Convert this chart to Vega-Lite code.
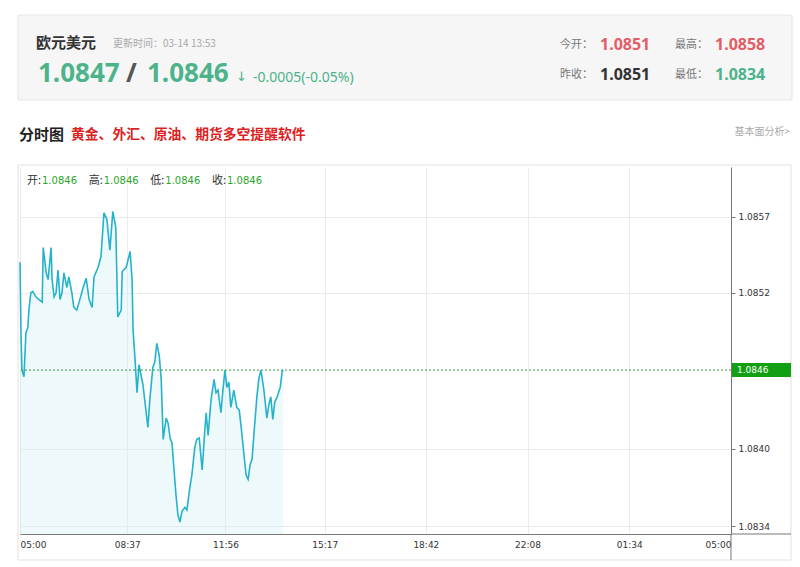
{
  "$schema": "https://vega.github.io/schema/vega-lite/v6.json",
  "width": 711,
  "height": 367,
  "autosize": {"type": "none"},
  "padding": {"left": 20, "top": 167, "right": 69, "bottom": 33},
  "background": "#ffffff",
  "config": {"view": {"stroke": null}, "font": "Noto Sans CJK SC"},
  "datasets": {
    "series": [
      {"t":"2024-03-14T05:00","p":1.08541},{"t":"2024-03-14T05:02","p":1.08488},{"t":"2024-03-14T05:04","p":1.08460},{"t":"2024-03-14T05:08","p":1.08455},
      {"t":"2024-03-14T05:12","p":1.08488},{"t":"2024-03-14T05:16","p":1.08492},{"t":"2024-03-14T05:18","p":1.08505},{"t":"2024-03-14T05:22","p":1.08518},
      {"t":"2024-03-14T05:26","p":1.08519},{"t":"2024-03-14T05:32","p":1.08515},{"t":"2024-03-14T05:38","p":1.08513},{"t":"2024-03-14T05:45","p":1.08511},
      {"t":"2024-03-14T05:47","p":1.08552},{"t":"2024-03-14T05:53","p":1.08533},{"t":"2024-03-14T05:57","p":1.08528},{"t":"2024-03-14T06:03","p":1.08552},
      {"t":"2024-03-14T06:05","p":1.08528},{"t":"2024-03-14T06:09","p":1.08515},{"t":"2024-03-14T06:13","p":1.08518},{"t":"2024-03-14T06:17","p":1.08535},
      {"t":"2024-03-14T06:21","p":1.08513},{"t":"2024-03-14T06:25","p":1.08518},{"t":"2024-03-14T06:29","p":1.08533},{"t":"2024-03-14T06:35","p":1.08522},
      {"t":"2024-03-14T06:39","p":1.08530},{"t":"2024-03-14T06:45","p":1.08518},{"t":"2024-03-14T06:49","p":1.08507},{"t":"2024-03-14T06:55","p":1.08505},
      {"t":"2024-03-14T07:02","p":1.08514},{"t":"2024-03-14T07:08","p":1.08522},{"t":"2024-03-14T07:14","p":1.08529},{"t":"2024-03-14T07:20","p":1.08513},
      {"t":"2024-03-14T07:26","p":1.08507},{"t":"2024-03-14T07:30","p":1.08530},{"t":"2024-03-14T07:38","p":1.08537},{"t":"2024-03-14T07:44","p":1.08545},
      {"t":"2024-03-14T07:50","p":1.08578},{"t":"2024-03-14T07:56","p":1.08573},{"t":"2024-03-14T08:02","p":1.08550},{"t":"2024-03-14T08:08","p":1.08579},
      {"t":"2024-03-14T08:14","p":1.08567},{"t":"2024-03-14T08:18","p":1.08500},{"t":"2024-03-14T08:25","p":1.08505},{"t":"2024-03-14T08:27","p":1.08534},
      {"t":"2024-03-14T08:35","p":1.08537},{"t":"2024-03-14T08:39","p":1.08543},{"t":"2024-03-14T08:43","p":1.08549},{"t":"2024-03-14T08:47","p":1.08528},
      {"t":"2024-03-14T08:49","p":1.08490},{"t":"2024-03-14T08:53","p":1.08468},{"t":"2024-03-14T08:57","p":1.08443},{"t":"2024-03-14T09:01","p":1.08464},
      {"t":"2024-03-14T09:09","p":1.08449},{"t":"2024-03-14T09:15","p":1.08430},{"t":"2024-03-14T09:19","p":1.08417},{"t":"2024-03-14T09:23","p":1.08438},
      {"t":"2024-03-14T09:29","p":1.08462},{"t":"2024-03-14T09:33","p":1.08466},{"t":"2024-03-14T09:37","p":1.08480},{"t":"2024-03-14T09:42","p":1.08471},
      {"t":"2024-03-14T09:46","p":1.08453},{"t":"2024-03-14T09:50","p":1.08408},{"t":"2024-03-14T09:56","p":1.08424},{"t":"2024-03-14T10:00","p":1.08420},
      {"t":"2024-03-14T10:04","p":1.08409},{"t":"2024-03-14T10:08","p":1.08405},{"t":"2024-03-14T10:12","p":1.08385},{"t":"2024-03-14T10:16","p":1.08366},
      {"t":"2024-03-14T10:20","p":1.08351},{"t":"2024-03-14T10:24","p":1.08346},{"t":"2024-03-14T10:28","p":1.08354},{"t":"2024-03-14T10:34","p":1.08357},
      {"t":"2024-03-14T10:38","p":1.08355},{"t":"2024-03-14T10:44","p":1.08372},{"t":"2024-03-14T10:48","p":1.08381},{"t":"2024-03-14T10:54","p":1.08402},
      {"t":"2024-03-14T10:58","p":1.08408},{"t":"2024-03-14T11:03","p":1.08409},{"t":"2024-03-14T11:09","p":1.08385},{"t":"2024-03-14T11:13","p":1.08408},
      {"t":"2024-03-14T11:17","p":1.08428},{"t":"2024-03-14T11:21","p":1.08411},{"t":"2024-03-14T11:27","p":1.08438},{"t":"2024-03-14T11:33","p":1.08453},
      {"t":"2024-03-14T11:37","p":1.08443},{"t":"2024-03-14T11:41","p":1.08445},{"t":"2024-03-14T11:47","p":1.08428},{"t":"2024-03-14T11:51","p":1.08445},
      {"t":"2024-03-14T11:55","p":1.08460},{"t":"2024-03-14T11:59","p":1.08447},{"t":"2024-03-14T12:03","p":1.08451},{"t":"2024-03-14T12:07","p":1.08432},
      {"t":"2024-03-14T12:13","p":1.08445},{"t":"2024-03-14T12:19","p":1.08432},{"t":"2024-03-14T12:24","p":1.08430},{"t":"2024-03-14T12:28","p":1.08417},
      {"t":"2024-03-14T12:34","p":1.08395},{"t":"2024-03-14T12:38","p":1.08381},{"t":"2024-03-14T12:42","p":1.08378},{"t":"2024-03-14T12:46","p":1.08389},
      {"t":"2024-03-14T12:50","p":1.08393},{"t":"2024-03-14T12:54","p":1.08413},{"t":"2024-03-14T13:00","p":1.08441},{"t":"2024-03-14T13:04","p":1.08454},
      {"t":"2024-03-14T13:08","p":1.08460},{"t":"2024-03-14T13:14","p":1.08445},{"t":"2024-03-14T13:20","p":1.08424},{"t":"2024-03-14T13:24","p":1.08434},
      {"t":"2024-03-14T13:28","p":1.08440},{"t":"2024-03-14T13:32","p":1.08423},{"t":"2024-03-14T13:36","p":1.08436},{"t":"2024-03-14T13:41","p":1.08440},
      {"t":"2024-03-14T13:47","p":1.08447},{"t":"2024-03-14T13:51","p":1.08459},{"t":"2024-03-14T13:53","p":1.08460}
    ],
    "quote": [
      {"name":"欧元美元","updated":"更新时间：03-14 13:53","bid":1.0847,"ask":1.0846,"chg":"-0.0005(-0.05%)","open":1.0851,"high":1.0858,"prev":1.0851,"low":1.0834}
    ],
    "bar": [
      {"k":"开:","v":1.0846},{"k":"高:","v":1.0846},{"k":"低:","v":1.0846},{"k":"收:","v":1.0846}
    ],
    "last": [{"t":"2024-03-14T13:53","p":1.0846}]
  },
  "resolve": {"scale": {"x": "independent"}},
  "layer": [
    {
      "data": {"values": [{}]},
      "layer": [
        {"mark": {"type": "rect", "x": -2, "x2": 771, "y": -2, "y2": 393, "fillOpacity": 0, "stroke": "#e2e2e2", "strokeWidth": 1}},
        {"mark": {"type": "rect", "x": -2, "x2": 772, "y": -152, "y2": -67, "fill": "#f6f6f6", "stroke": "#e6e6e6", "strokeWidth": 1}},
        {"mark": {"type": "rule", "x": -2, "x2": 772, "y": -14, "y2": -14, "color": "#e4e4e4", "strokeWidth": 2}, "encoding": {}},
        {"mark": {"type": "rule", "color": "#777777", "strokeWidth": 1}, "encoding": {"x": {"value": "width"}, "y": {"value": "height"}, "y2": {"value": 393}}},
        {"mark": {"type": "rule", "color": "#777777", "strokeWidth": 1}, "encoding": {"x": {"value": "width"}, "x2": {"value": 771}, "y": {"value": "height"}}}
      ]
    },
    {
      "data": {"name": "series"},
      "encoding": {
        "x": {
          "field": "t", "type": "temporal",
          "scale": {"domain": [{"year": 2024, "month": 3, "date": 14, "hours": 5}, {"year": 2024, "month": 3, "date": 15, "hours": 5}]},
          "axis": {
            "values": [
              {"year": 2024, "month": 3, "date": 14, "hours": 5, "minutes": 0},
              {"year": 2024, "month": 3, "date": 14, "hours": 8, "minutes": 37},
              {"year": 2024, "month": 3, "date": 14, "hours": 11, "minutes": 56},
              {"year": 2024, "month": 3, "date": 14, "hours": 15, "minutes": 17},
              {"year": 2024, "month": 3, "date": 14, "hours": 18, "minutes": 42},
              {"year": 2024, "month": 3, "date": 14, "hours": 22, "minutes": 8},
              {"year": 2024, "month": 3, "date": 15, "hours": 1, "minutes": 34},
              {"year": 2024, "month": 3, "date": 15, "hours": 5, "minutes": 0}
            ],
            "format": "%H:%M", "labelFlush": true, "labelOverlap": false,
            "grid": true, "gridColor": "#ebebeb", "ticks": false,
            "domainColor": "#777777", "labelColor": "#333333",
            "labelFont": "DejaVu Sans", "labelFontSize": 9, "labelPadding": 6, "title": null
          }
        },
        "y": {
          "field": "p", "type": "quantitative",
          "scale": {"domain": [1.08337, 1.086124], "zero": false, "nice": false},
          "axis": {
            "orient": "right", "values": [1.08343, 1.08401, 1.08518, 1.085749], "format": ".4f",
            "grid": true, "gridColor": "#ebebeb", "tickSize": 4, "tickColor": "#777777",
            "domainColor": "#777777", "labelColor": "#333333",
            "labelFont": "DejaVu Sans", "labelFontSize": 9, "labelPadding": 3, "title": null
          }
        }
      },
      "layer": [
        {"mark": {"type": "area", "color": "#cdeef6", "opacity": 0.35}, "encoding": {"y2": {"datum": 1.08337}}},
        {"mark": {"type": "line", "color": "#25b3cb", "strokeWidth": 1.6}}
      ]
    },
    {
      "data": {"name": "last"},
      "layer": [
        {"mark": {"type": "rule", "color": "#3c9c3c", "strokeDash": [2, 2], "strokeWidth": 1}, "encoding": {"y": {"field": "p", "type": "quantitative"}}},
        {"mark": {"type": "rect", "width": 59, "height": 14, "xOffset": 30.5, "color": "#12a012"}, "encoding": {"x": {"value": "width"}, "y": {"field": "p", "type": "quantitative"}}},
        {"mark": {"type": "text", "align": "left", "baseline": "middle", "dx": 6, "color": "#ffffff", "font": "DejaVu Sans", "fontSize": 9},
         "encoding": {"x": {"value": "width"}, "y": {"field": "p", "type": "quantitative"}, "text": {"field": "p", "type": "quantitative", "format": ".4f"}}}
      ]
    },
    {
      "data": {"name": "bar"},
      "encoding": {
        "x": {"field": "k", "type": "nominal", "scale": {"type": "point", "domain": ["开:", "高:", "低:", "收:"], "range": [7, 192], "padding": 0}, "axis": null},
        "y": {"value": 14}
      },
      "layer": [
        {"mark": {"type": "text", "align": "left", "baseline": "middle", "fontSize": 11, "color": "#333333"}, "encoding": {"text": {"field": "k"}}},
        {"mark": {"type": "text", "align": "left", "baseline": "middle", "dx": 15, "fontSize": 10, "color": "#2aa52a", "font": "DejaVu Sans"}, "encoding": {"text": {"field": "v", "type": "quantitative", "format": ".4f"}}}
      ]
    },
    {
      "data": {"name": "quote"},
      "layer": [
        {"mark": {"type": "text", "x": 16, "y": -124, "align": "left", "baseline": "middle", "fontSize": 15, "fontWeight": "bold", "color": "#333333"}, "encoding": {"text": {"field": "name"}}},
        {"mark": {"type": "text", "x": 93, "y": -123, "align": "left", "baseline": "middle", "fontSize": 10, "color": "#a8a8a8"}, "encoding": {"text": {"field": "updated"}}},
        {"mark": {"type": "text", "x": 18, "y": -93, "align": "left", "baseline": "middle", "font": "Noto Sans", "fontSize": 26, "fontWeight": "bold", "color": "#4db38b"}, "encoding": {"text": {"field": "bid", "type": "quantitative", "format": ".4f"}}},
        {"mark": {"type": "text", "x": 106, "y": -93, "align": "left", "baseline": "middle", "font": "Noto Sans", "fontSize": 26, "fontWeight": "bold", "color": "#555555", "text": "/"}},
        {"mark": {"type": "text", "x": 127, "y": -93, "align": "left", "baseline": "middle", "font": "Noto Sans", "fontSize": 26, "fontWeight": "bold", "color": "#4db38b"}, "encoding": {"text": {"field": "ask", "type": "quantitative", "format": ".4f"}}},
        {"mark": {"type": "text", "x": 216, "y": -90, "align": "left", "baseline": "middle", "font": "DejaVu Sans", "fontSize": 13, "color": "#4db38b", "text": "↓"}},
        {"mark": {"type": "text", "x": 233, "y": -89, "align": "left", "baseline": "middle", "font": "Noto Sans", "fontSize": 14, "color": "#4db38b"}, "encoding": {"text": {"field": "chg"}}},
        {"mark": {"type": "text", "x": 540, "y": -122, "align": "left", "baseline": "middle", "fontSize": 11, "color": "#777777", "text": "今开："}},
        {"mark": {"type": "text", "x": 580, "y": -122, "align": "left", "baseline": "middle", "font": "Noto Sans", "fontSize": 16, "fontWeight": "bold", "color": "#e35d67"}, "encoding": {"text": {"field": "open", "type": "quantitative", "format": ".4f"}}},
        {"mark": {"type": "text", "x": 655, "y": -122, "align": "left", "baseline": "middle", "fontSize": 11, "color": "#777777", "text": "最高："}},
        {"mark": {"type": "text", "x": 695, "y": -122, "align": "left", "baseline": "middle", "font": "Noto Sans", "fontSize": 16, "fontWeight": "bold", "color": "#e35d67"}, "encoding": {"text": {"field": "high", "type": "quantitative", "format": ".4f"}}},
        {"mark": {"type": "text", "x": 540, "y": -92, "align": "left", "baseline": "middle", "fontSize": 11, "color": "#777777", "text": "昨收："}},
        {"mark": {"type": "text", "x": 580, "y": -92, "align": "left", "baseline": "middle", "font": "Noto Sans", "fontSize": 16, "fontWeight": "bold", "color": "#333333"}, "encoding": {"text": {"field": "prev", "type": "quantitative", "format": ".4f"}}},
        {"mark": {"type": "text", "x": 655, "y": -92, "align": "left", "baseline": "middle", "fontSize": 11, "color": "#777777", "text": "最低："}},
        {"mark": {"type": "text", "x": 695, "y": -92, "align": "left", "baseline": "middle", "font": "Noto Sans", "fontSize": 16, "fontWeight": "bold", "color": "#4db38b"}, "encoding": {"text": {"field": "low", "type": "quantitative", "format": ".4f"}}},
        {"mark": {"type": "text", "x": -1, "y": -32, "align": "left", "baseline": "middle", "fontSize": 15, "fontWeight": "bold", "color": "#222222", "text": "分时图"}},
        {"mark": {"type": "text", "x": 51, "y": -32, "align": "left", "baseline": "middle", "fontSize": 13.8, "fontWeight": "bold", "color": "#dc1f1f", "text": "黄金、外汇、原油、期货多空提醒软件"}},
        {"mark": {"type": "text", "x": 770, "y": -35, "align": "right", "baseline": "middle", "fontSize": 10, "color": "#aaaaaa", "text": "基本面分析>"}}
      ]
    }
  ]
}
